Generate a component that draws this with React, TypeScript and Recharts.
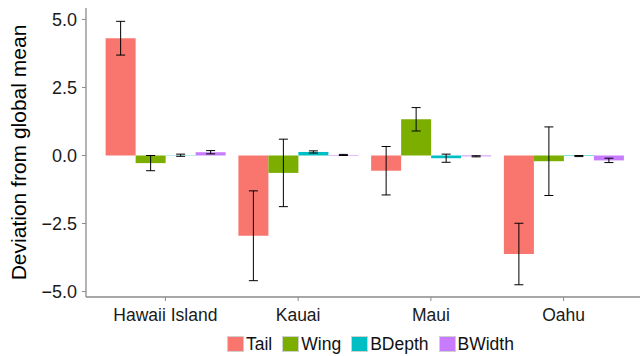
import React from "react";
import { BarChart, Bar, XAxis, YAxis, ErrorBar, Legend } from "recharts";

const islands = ["Hawaii Island", "Kauai", "Maui", "Oahu"];
const tail = [4.31, -2.95, -0.56, -3.62];
const tailErr = [0.62, 1.65, 0.89, 1.13];
const wing = [-0.28, -0.64, 1.33, -0.21];
const wingErr = [0.28, 1.24, 0.43, 1.26];
const bdepth = [0.01, 0.13, -0.1, -0.02];
const bdepthErr = [0.04, 0.04, 0.15, 0.02];
const bwidth = [0.12, 0.02, -0.03, -0.18];
const bwidthErr = [0.06, 0.02, 0.02, 0.08];
const yTicks = [-5, -2.5, 0, 2.5, 5];

const series = [
  { key: "Tail", color: "#F8766D" },
  { key: "Wing", color: "#7CAE00" },
  { key: "BDepth", color: "#00BFC4" },
  { key: "BWidth", color: "#C77CFF" },
];

const data = islands.map((island, i) => ({
  island,
  Tail: tail[i],
  TailErr: tailErr[i],
  Wing: wing[i],
  WingErr: wingErr[i],
  BDepth: bdepth[i],
  BDepthErr: bdepthErr[i],
  BWidth: bwidth[i],
  BWidthErr: bwidthErr[i],
}));

const FONT = "'Liberation Sans', Arial, Helvetica, sans-serif";
const AXIS = "#8a8a8a";

const fmtY = (v: number) => {
  const s = Math.abs(v).toFixed(1);
  return v < 0 ? `\u2212${s}` : s;
};

function LegendBox() {
  return (
    <div
      style={{
        height: 24,
        display: "flex",
        alignItems: "center",
        paddingLeft: 227,
        fontFamily: FONT,
        fontSize: 17.5,
        color: "#111",
      }}
    >
      {series.map((s) => (
        <div
          key={s.key}
          style={{ display: "flex", alignItems: "center", marginRight: 10 }}
        >
          <span
            style={{
              width: 15,
              height: 14,
              background: s.color,
              border: "1px solid #d0d0d0",
              marginRight: 2,
            }}
          />
          <span>{s.key}</span>
        </div>
      ))}
    </div>
  );
}

export default function App() {
  return (
    <div
      style={{
        position: "absolute",
        left: 0,
        top: 0,
        width: 640,
        height: 356,
        overflow: "hidden",
        background: "#fff",
      }}
    >
      <BarChart
        width={651}
        height={356}
        data={data}
        margin={{ top: 8, right: 8, left: 0, bottom: 0 }}
        barCategoryGap="5%"
        barGap={0}
      >
        <XAxis
          dataKey="island"
          padding={{ left: 13, right: 13 }}
          height={35}
          tickSize={4}
          tickMargin={8}
          axisLine={{ stroke: AXIS, strokeWidth: 1.3 }}
          tickLine={{ stroke: AXIS }}
          tick={{ fill: "#1a1a1a", fontSize: 17.5, fontFamily: FONT }}
        />
        <XAxis
          xAxisId="top"
          dataKey="island"
          orientation="top"
          height={0}
          tick={false}
          tickLine={false}
          axisLine={{ stroke: AXIS, strokeWidth: 1.3 }}
        />
        <YAxis
          width={86}
          domain={[-5.2, 5.42]}
          allowDataOverflow
          ticks={yTicks}
          tickFormatter={fmtY}
          tickSize={4}
          tickMargin={5}
          axisLine={{ stroke: AXIS, strokeWidth: 1.3 }}
          tickLine={{ stroke: AXIS }}
          tick={{ fill: "#1a1a1a", fontSize: 18, fontFamily: FONT }}
          label={({ viewBox }: any) => {
            const cy = viewBox.y + viewBox.height / 2;
            return (
              <text
                x={26}
                y={cy}
                transform={`rotate(-90, 26, ${cy})`}
                textAnchor="middle"
                fontSize={21}
                fontFamily={FONT}
                fill="#000"
              >
                Deviation from global mean
              </text>
            );
          }}
        />
        <Legend
          verticalAlign="bottom"
          height={24}
          content={() => <LegendBox />}
        />
        {series.map((s) => (
          <Bar
            key={s.key}
            dataKey={s.key}
            fill={s.color}
            isAnimationActive={false}
            legendType="square"
          >
            <ErrorBar
              dataKey={`${s.key}Err`}
              direction="y"
              width={4.5}
              stroke="#000"
              strokeWidth={1}
            />
          </Bar>
        ))}
      </BarChart>
    </div>
  );
}
